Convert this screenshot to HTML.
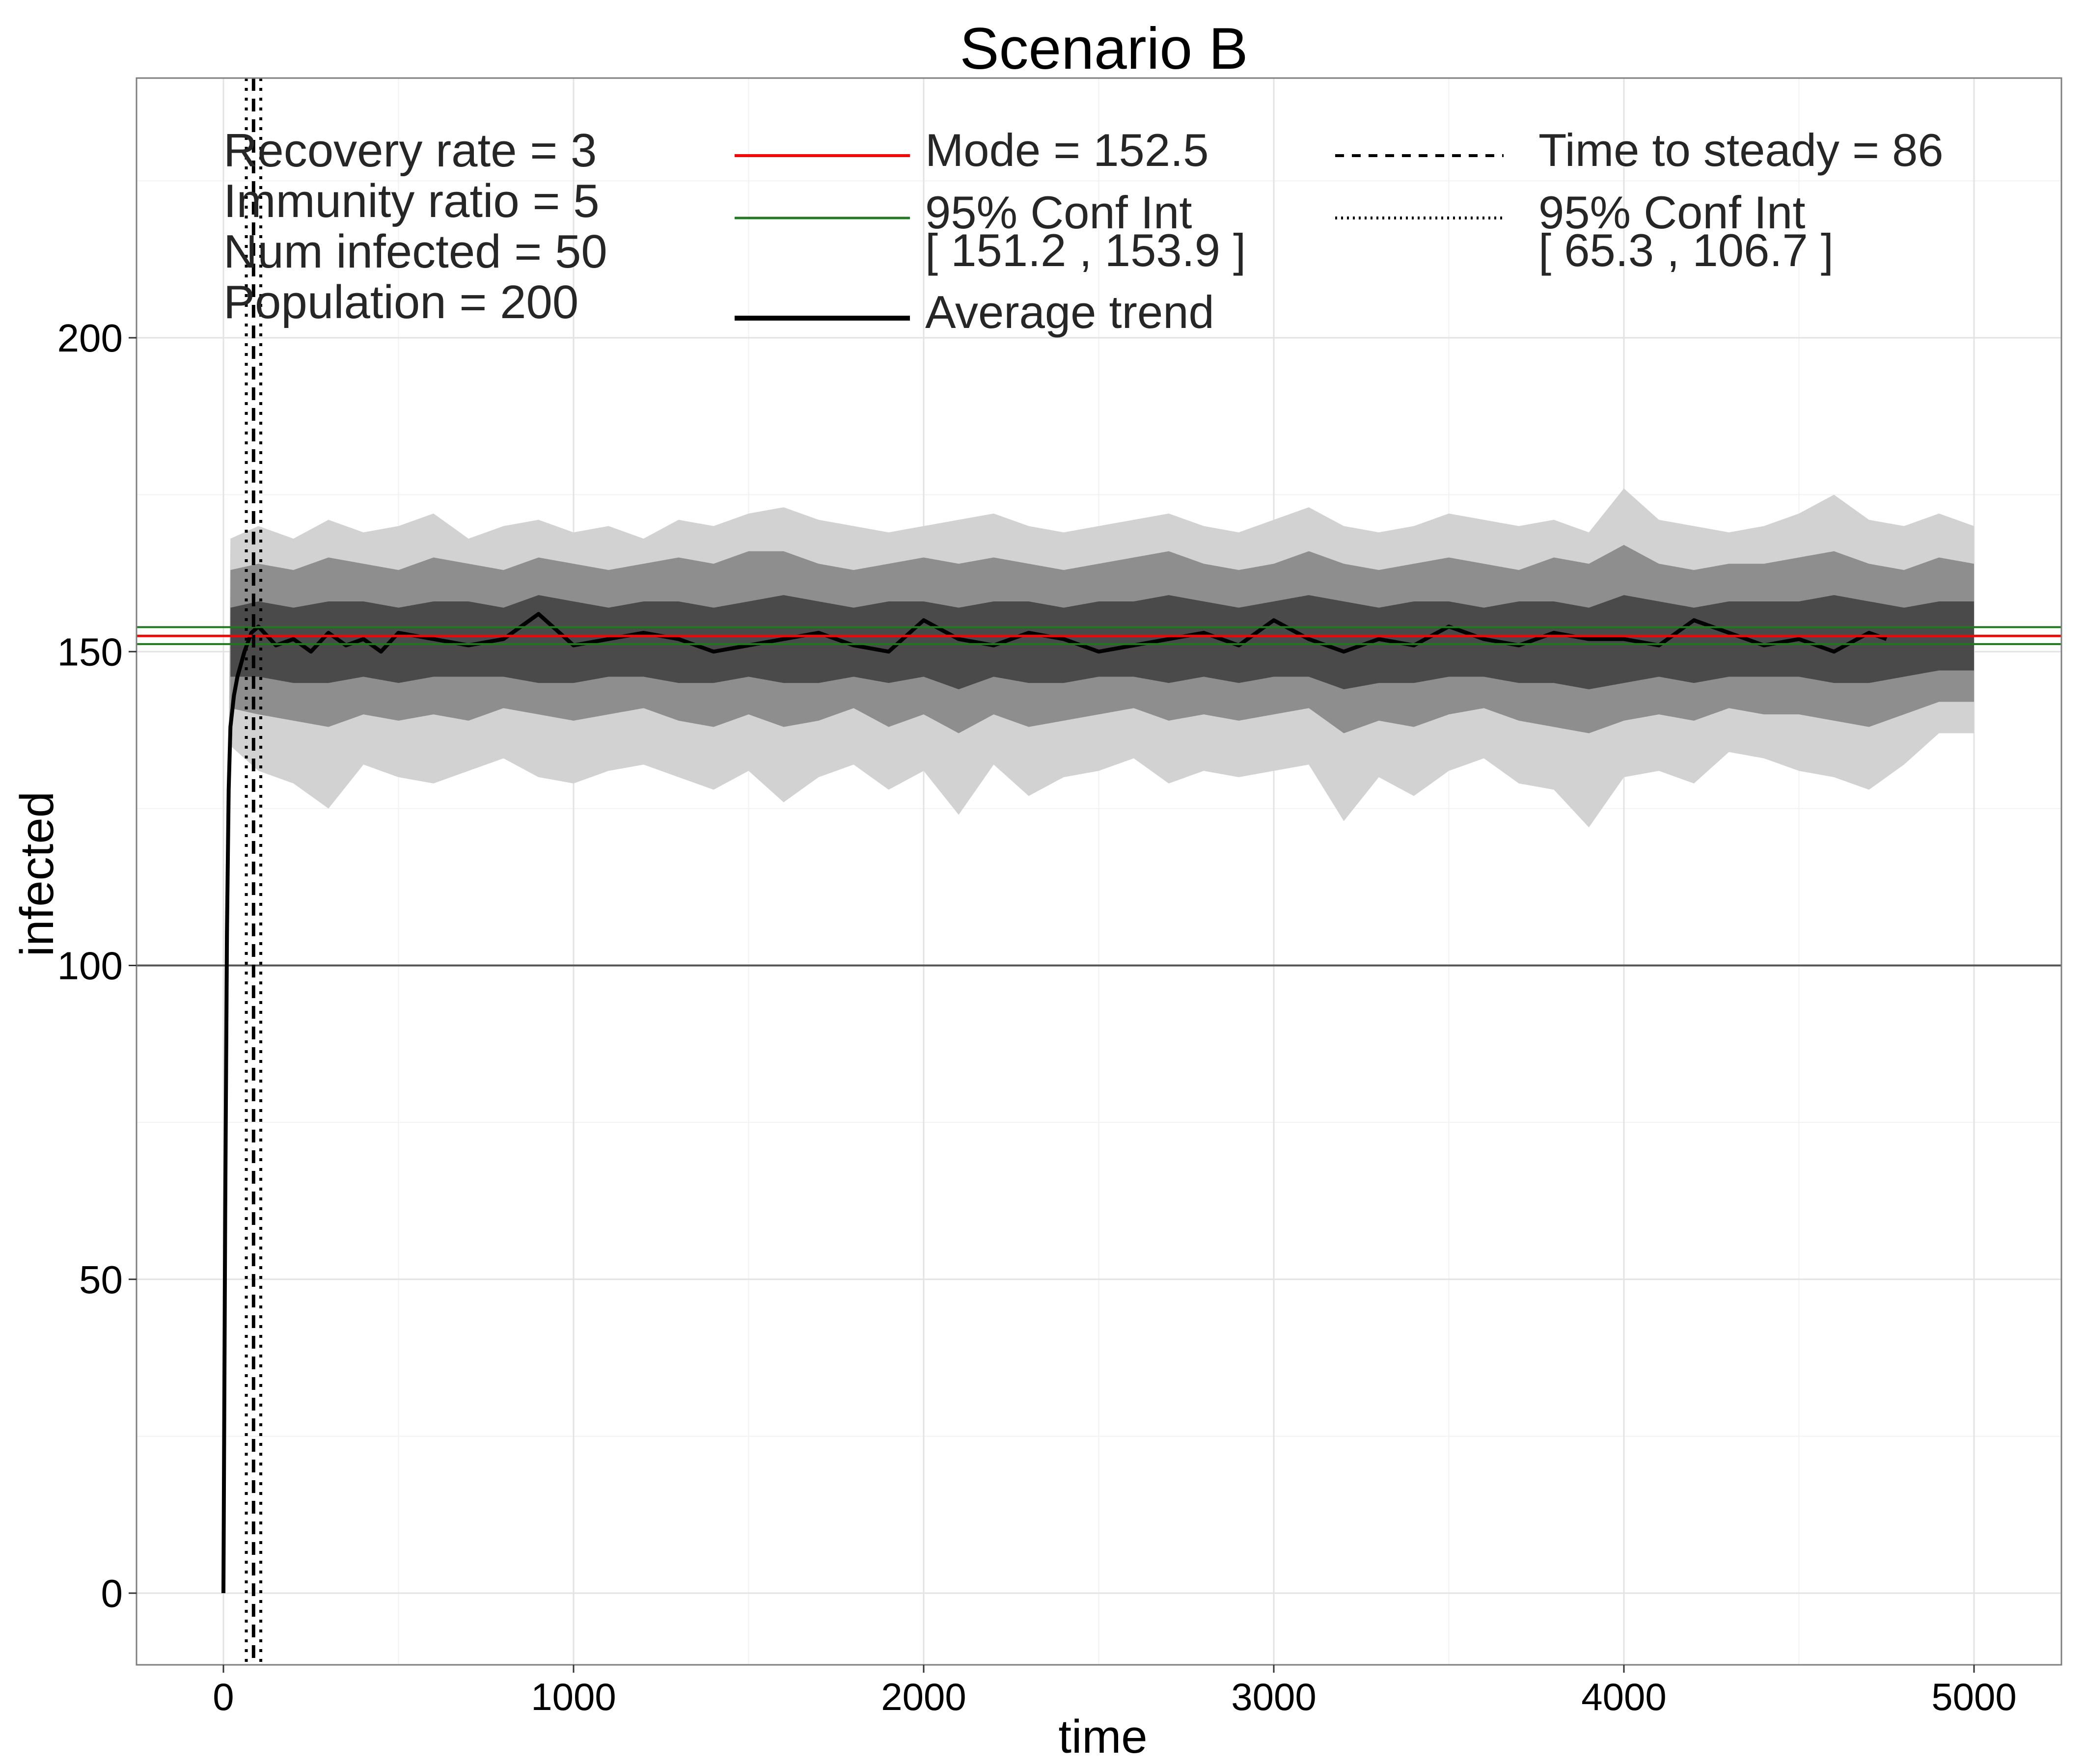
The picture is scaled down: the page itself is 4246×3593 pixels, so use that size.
<!DOCTYPE html>
<html><head><meta charset="utf-8">
<style>
html,body{margin:0;padding:0;background:#fff;}
svg{display:block;font-family:"Liberation Sans",Arial,sans-serif;}
</style></head>
<body>
<svg id="chart" xmlns="http://www.w3.org/2000/svg" width="4246" height="3593" viewBox="0 0 4246 3593">
<rect x="0" y="0" width="4246" height="3593" fill="#fff"/>
<g id="grid"></g>
<g id="bands"></g>
<g id="refs"></g>
<g id="axes"></g>
<text x="2248" y="140" font-size="120" text-anchor="middle" fill="#000">Scenario B</text>
<text x="2246" y="3570" font-size="96" text-anchor="middle" fill="#000">time</text>
<text x="0" y="0" font-size="96" text-anchor="middle" fill="#000" transform="translate(108,1780) rotate(-90)">infected</text>
<g font-size="96" fill="#262626">
<text x="455" y="339">Recovery rate = 3</text>
<text x="455" y="442">Immunity ratio = 5</text>
<text x="455" y="545">Num infected = 50</text>
<text x="455" y="648">Population = 200</text>
</g>
<g font-size="94" fill="#262626">
<line x1="1496" y1="317" x2="1853" y2="317" stroke="#ff0000" stroke-width="6"/>
<text x="1884" y="338">Mode = 152.5</text>
<line x1="1496" y1="444" x2="1853" y2="444" stroke="#1f7a1f" stroke-width="5"/>
<text x="1884" y="465">95% Conf Int</text>
<text x="1884" y="542">[ 151.2 , 153.9 ]</text>
<line x1="1496" y1="648" x2="1853" y2="648" stroke="#000" stroke-width="10"/>
<text x="1884" y="668">Average trend</text>
<line x1="2719" y1="317" x2="3062" y2="317" stroke="#000" stroke-width="6" stroke-dasharray="18 16"/>
<text x="3133" y="338">Time to steady = 86</text>
<line x1="2719" y1="444" x2="3062" y2="444" stroke="#000" stroke-width="6" stroke-dasharray="4 8"/>
<text x="3133" y="465">95% Conf Int</text>
<text x="3133" y="542">[ 65.3 , 106.7 ]</text>
</g>
</svg>
<script>
const bandTimes=[20,100,200,300,400,500,600,700,800,900,1000,1100,1200,1300,1400,1500,1600,1700,1800,1900,2000,2100,2200,2300,2400,2500,2600,2700,2800,2900,3000,3100,3200,3300,3400,3500,3600,3700,3800,3900,4000,4100,4200,4300,4400,4500,4600,4700,4800,4900,5000];
const outerHigh=[168,170,168,171,169,170,172,168,170,171,169,170,168,171,170,172,173,171,170,169,170,171,172,170,169,170,171,172,170,169,171,173,170,169,170,172,171,170,171,169,176,171,170,169,170,172,175,171,170,172,170];
const outerLow=[135,131,129,125,132,130,129,131,133,130,129,131,132,130,128,131,126,130,132,128,131,124,132,127,130,131,133,129,131,130,131,132,123,130,127,131,133,129,128,122,130,131,129,134,133,131,130,128,132,137,137];
const midHigh=[163,164,163,165,164,163,165,164,163,165,164,163,164,165,164,166,166,164,163,164,165,164,165,164,163,164,165,166,164,163,164,166,164,163,164,165,164,163,165,164,167,164,163,164,164,165,166,164,163,165,164];
const midLow=[141,140,139,138,140,139,140,139,141,140,139,140,141,139,138,140,138,139,141,138,140,137,140,138,139,140,141,139,140,139,140,141,137,139,138,140,141,139,138,137,139,140,139,141,140,140,139,138,140,142,142];
const coreHigh=[157,158,157,158,158,157,158,158,157,159,158,157,158,158,157,158,159,158,157,158,158,157,158,158,157,158,158,159,158,157,158,159,158,157,158,158,157,158,158,157,159,158,157,158,158,158,159,158,157,158,158];
const coreLow=[146,146,145,145,146,145,146,146,146,145,145,146,146,145,145,146,145,145,146,145,146,144,146,145,145,146,146,145,146,145,146,146,144,145,145,146,146,145,145,144,145,146,145,146,146,146,145,145,146,147,147];
const avgTimes=[0,5,10,15,20,30,40,60,80,100,150,200,250,300,350,400,450,500,600,700,800,900,1000,1100,1200,1300,1400,1500,1600,1700,1800,1900,2000,2100,2200,2300,2400,2500,2600,2700,2800,2900,3000,3100,3200,3300,3400,3500,3600,3700,3800,3900,4000,4100,4200,4300,4400,4500,4600,4700,4750];
const avgValues=[0,60,105,128,138,143,146,150,153,154,151,152,150,153,151,152,150,153,152,151,152,156,151,152,153,152,150,151,152,153,151,150,155,152,151,153,152,150,151,152,153,151,155,152,150,152,151,154,152,151,153,152,152,151,155,153,151,152,150,153,152];
const modeValue=152.5, ciLow=151.2, ciHigh=153.9, refLine=100;
const steadyTime=86, steadyLow=65.3, steadyHigh=106.7;
const xTicks=[0,1000,2000,3000,4000,5000];
const yTicks=[0,50,100,150,200];
const xMinor=[500,1500,2500,3500,4500];
const yMinor=[25,75,125,175,225];

const PL=278,PR=4198,PT=159,PB=3391;
const sx=t=>455+(t-0)*0.713;
const sy=v=>3245-v*12.785;
const NS="http://www.w3.org/2000/svg";
function mk(tag,parent,attrs){const e=document.createElementNS(NS,tag);for(const k in attrs)e.setAttribute(k,attrs[k]);parent.appendChild(e);return e;}
const grid=document.getElementById('grid'),bands=document.getElementById('bands'),refs=document.getElementById('refs'),axes=document.getElementById('axes');
xMinor.forEach(t=>{const l=mk('line',grid,{x1:sx(t),x2:sx(t),y1:PT,y2:PB,stroke:'#f2f2f2','stroke-width':2});});
yMinor.forEach(v=>{const l=mk('line',grid,{x1:PL,x2:PR,y1:sy(v),y2:sy(v),stroke:'#f2f2f2','stroke-width':2});});
xTicks.forEach(t=>{const l=mk('line',grid,{x1:sx(t),x2:sx(t),y1:PT,y2:PB,stroke:'#e3e3e3','stroke-width':3});});
yTicks.forEach(v=>{const l=mk('line',grid,{x1:PL,x2:PR,y1:sy(v),y2:sy(v),stroke:'#e3e3e3','stroke-width':3});});
function band(hi,lo,fill,name){
  let d='M'+sx(bandTimes[0])+','+sy(hi[0]);
  for(let i=1;i<bandTimes.length;i++)d+=' L'+sx(bandTimes[i])+','+sy(hi[i]);
  for(let i=bandTimes.length-1;i>=0;i--)d+=' L'+sx(bandTimes[i])+','+sy(lo[i]);
  const p=mk('path',bands,{d:d+'Z',fill:fill});
  
  
}
band(outerHigh,outerLow,'#d2d2d2','runs-outer-band');
band(midHigh,midLow,'#8e8e8e','runs-mid-band');
band(coreHigh,coreLow,'#4a4a4a','runs-core-band');
const rise=mk('path',bands,{d:'M'+sx(0)+','+sy(0)+' L'+sx(10)+','+sy(95)+' L'+sx(20)+','+sy(outerHigh[0])+' L'+sx(20)+','+sy(outerLow[0])+' L'+sx(10)+','+sy(60)+'Z',fill:'#b0b0b0'});


function hline(v,color,w,name){const l=mk('line',refs,{x1:PL,x2:PR,y1:sy(v),y2:sy(v),stroke:color,'stroke-width':w});}
hline(refLine,'#555555',4,'reference-line-100');
let ad='M'+sx(avgTimes[0])+','+sy(avgValues[0]);
for(let i=1;i<avgTimes.length;i++)ad+=' L'+sx(avgTimes[i])+','+sy(avgValues[i]);
const avg=mk('path',refs,{d:ad,fill:'none',stroke:'#000','stroke-width':8,'stroke-linejoin':'round'});


hline(ciHigh,'#1f7a1f',4,'ci-upper-line');
hline(ciLow,'#1f7a1f',4,'ci-lower-line');
hline(modeValue,'#ff0000',5,'mode-line');
function vline(t,dash,w,name){const l=mk('line',refs,{x1:sx(t),x2:sx(t),y1:PT,y2:PB,stroke:'#000','stroke-width':w,'stroke-dasharray':dash});}
vline(steadyLow,'6 14',6,'steady-ci-low-line');
vline(steadyHigh,'6 14',6,'steady-ci-high-line');
vline(steadyTime,'26 16',7,'steady-time-line');
const border=mk('rect',axes,{x:PL,y:PT,width:PR-PL,height:PB-PT,fill:'none',stroke:'#7f7f7f','stroke-width':3});


xTicks.forEach(t=>{
  const l=mk('line',axes,{x1:sx(t),x2:sx(t),y1:PB,y2:PB+16,stroke:'#333','stroke-width':3});
  
  
  const tx=mk('text',axes,{x:sx(t),y:PB+92,'font-size':78,'text-anchor':'middle',fill:'#000'});
  tx.textContent=t;
  
  
});
yTicks.forEach(v=>{
  const l=mk('line',axes,{x1:PL-16,x2:PL,y1:sy(v),y2:sy(v),stroke:'#333','stroke-width':3});
  
  
  const tx=mk('text',axes,{x:PL-28,y:sy(v)+28,'font-size':80,'text-anchor':'end',fill:'#000'});
  tx.textContent=v;
  
  
});
</script>
</body></html>
